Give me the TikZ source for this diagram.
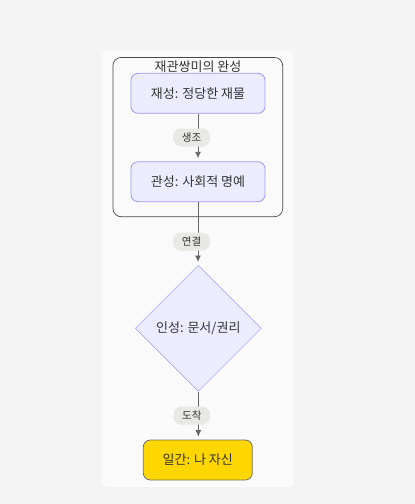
\documentclass[tikz,border=0pt]{standalone}
\usepackage{fontspec}
\setmainfont{Noto Sans CJK KR}
\usetikzlibrary{shapes.geometric,arrows.meta,positioning}

\definecolor{pagebg}{HTML}{F4F4F4}
\definecolor{panelbg}{HTML}{FAFAFA}
\definecolor{nodefill}{HTML}{ECECFF}
\definecolor{nodeline}{HTML}{9A9AF2}
\definecolor{diamline}{HTML}{AAAAF5}
\definecolor{goldfill}{HTML}{FFD700}
\definecolor{goldline}{HTML}{707070}
\definecolor{linegray}{HTML}{666666}
\definecolor{pillgray}{HTML}{E8E8E4}
\definecolor{ink}{HTML}{333333}

\tikzset{
  stepbox/.style={draw=nodeline, fill=nodefill, rounded corners=7pt,
    minimum width=134pt, minimum height=40pt, line width=0.8pt,
    text=ink, font=\fontsize{13}{15}\selectfont},
  selfbox/.style={stepbox, draw=goldline, fill=goldfill,
    minimum width=109pt},
  decision/.style={diamond, aspect=1, draw=diamline, fill=nodefill,
    line width=0.6pt, inner sep=0pt, minimum width=126pt,
    minimum height=126pt, text=ink, font=\fontsize{13}{15}\selectfont},
  pill/.style={fill=pillgray, rounded corners=8pt, inner xsep=5pt,
    minimum height=18pt, minimum width=37pt, text=ink,
    font=\fontsize{10.5}{12}\selectfont, xshift=-6.5pt},
  flow/.style={draw=linegray, line width=0.9pt, shorten >=3pt,
    -{Latex[length=6.5pt,width=6pt]}},
  group/.style={draw=ink!90, fill=panelbg, rounded corners=8pt,
    line width=0.7pt}
}

\begin{document}
\begin{tikzpicture}[x=1pt,y=-1pt]
  % page and panel
  \fill[pagebg] (0,0) rectangle (415,504);
  \useasboundingbox (0,0) rectangle (415,504);
  \fill[panelbg, rounded corners=5pt] (102,50.5) rectangle (294,487);

  % group
  \draw[group] (113,57.5) rectangle (282.7,216.7);
  \node[text=ink, font=\fontsize{13}{15}\selectfont] (title) at (198,66.5) {재관쌍미의 완성};

  % nodes
  \node[stepbox] (jaesung) at (198,93.3) {재성: 정당한 재물};
  \node[stepbox] (gwansung) at (198,181.7) {관성: 사회적 명예};
  \node[decision] (insung) at (198.3,328.3) {인성: 문서/권리};
  \node[selfbox] (ilgan) at (197.8,460) {일간: 나 자신};

  % edges
  \draw[flow] (jaesung.south) -- (jaesung.south |- gwansung.north)
    node[pill, pos=0.5] {생조};
  \draw[flow] (gwansung.south) -- (gwansung.south |- insung.north)
    node[pill, pos=0.63] {연결};
  \draw[flow] (insung.south) -- (insung.south |- ilgan.north)
    node[pill, pos=0.5] {도착};
\end{tikzpicture}
\end{document}
